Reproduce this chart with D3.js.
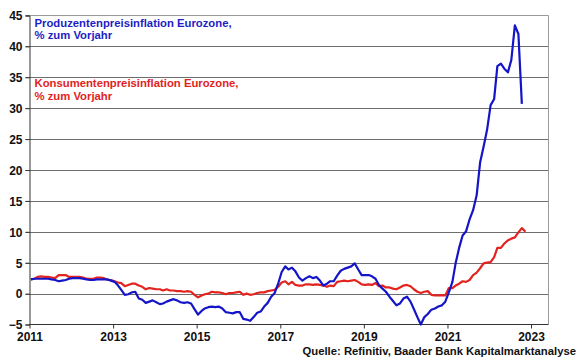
<!DOCTYPE html>
<html><head><meta charset="utf-8">
<script src="https://cdn.jsdelivr.net/npm/d3@7/dist/d3.min.js"></script>
<style>
body{margin:0;background:#fff}
text{font-family:"Liberation Sans",Arial,sans-serif;font-weight:bold}
</style>
</head><body>
<svg id="c" width="580" height="359"></svg>
<script>
// ---- data ----
const startYear = 2011;
const yTicks = [-5, 0, 5, 10, 15, 20, 25, 30, 35, 40, 45];
const xTickYears = [2011, 2013, 2015, 2017, 2019, 2021, 2023];
const ppiLabel = ["Produzentenpreisinflation Eurozone,", "% zum Vorjahr"];
const cpiLabel = ["Konsumentenpreisinflation Eurozone,", "% zum Vorjahr"];
const sourceText = "Quelle: Refinitiv, Baader Bank Kapitalmarktanalyse";

// Producer price inflation, monthly from Jan 2011
const ppi = [
  2.3, 2.4, 2.4, 2.4, 2.4, 2.4, 2.3, 2.2, 2.0, 2.1, 2.2, 2.4,
  2.5, 2.5, 2.5, 2.4, 2.3, 2.2, 2.2, 2.3, 2.3, 2.3, 2.3, 2.1,
  1.9, 1.3, 0.6, -0.2, -0.1, 0.2, 0.3, -0.8, -1.0, -1.5, -1.3, -1.1,
  -1.4, -1.7, -1.6, -1.3, -1.1, -0.9, -1.1, -1.4, -1.5, -1.4, -1.6, -2.5,
  -3.4, -2.8, -2.4, -2.2, -2.1, -2.2, -2.1, -2.4, -3.0, -3.1, -3.2, -3.0,
  -3.0, -4.1, -4.2, -4.4, -3.8, -3.1, -2.9, -2.1, -1.5, -0.5, 0.1, 1.6,
  3.5, 4.4, 3.9, 4.2, 3.6, 2.6, 2.1, 2.5, 2.8, 2.5, 2.7, 2.1,
  1.3, 1.6, 2.0, 2.0, 2.9, 3.7, 4.0, 4.2, 4.4, 4.9, 3.9, 3.0,
  3.0, 3.0, 2.8, 2.4, 1.4, 0.8, 0.3, -0.5, -1.2, -1.9, -1.6, -0.8,
  -0.5, -1.3, -2.5, -3.8, -5.0, -3.8, -3.3, -2.6, -2.4, -2.1, -1.9, -1.3,
  0.2, 1.9, 4.9, 7.4, 9.4, 10.1, 12.0, 13.5, 15.9, 21.2, 23.8, 26.5,
  30.5, 31.5, 36.8, 37.2, 36.4, 35.8, 37.8, 43.4, 42.0, 30.7
];
// Consumer price inflation, monthly from Jan 2011
const cpi = [
  2.3, 2.4, 2.7, 2.8, 2.7, 2.7, 2.6, 2.5, 3.0, 3.0, 3.0, 2.7,
  2.7, 2.7, 2.7, 2.6, 2.4, 2.4, 2.4, 2.6, 2.6, 2.5, 2.2, 2.2,
  2.0, 1.8, 1.7, 1.2, 1.4, 1.6, 1.6, 1.3, 1.1, 0.7, 0.9, 0.8,
  0.7, 0.7, 0.5, 0.7, 0.5, 0.5, 0.4, 0.4, 0.3, 0.4, 0.3, -0.2,
  -0.6, -0.3, -0.1, 0.0, 0.3, 0.2, 0.2, 0.1, -0.1, 0.1, 0.1, 0.2,
  0.3, -0.2, 0.0, -0.2, -0.1, 0.1, 0.2, 0.2, 0.4, 0.5, 0.6, 1.1,
  1.8, 2.0, 1.5, 1.9, 1.4, 1.3, 1.3, 1.5, 1.5, 1.4, 1.5, 1.4,
  1.3, 1.1, 1.3, 1.2, 1.9, 2.0, 2.1, 2.0, 2.1, 2.2, 1.9, 1.5,
  1.4, 1.5, 1.4, 1.7, 1.2, 1.3, 1.0, 1.0, 0.8, 0.7, 1.0, 1.3,
  1.4, 1.2, 0.7, 0.3, 0.1, 0.3, 0.4, -0.2, -0.3, -0.3, -0.3, -0.3,
  0.9, 0.9, 1.3, 1.6, 2.0, 1.9, 2.2, 3.0, 3.4, 4.1, 4.9, 5.0,
  5.1, 5.9, 7.4, 7.4, 8.1, 8.6, 8.9, 9.1, 9.9, 10.6, 10.0
];

// ---- chart ----
const svg = d3.select("#c");
const L = 29.5, R = 548.5, T = 15.5, B = 324.5;
const x = d3.scaleTime()
  .domain([new Date(2011, 0, 1), new Date(2023, 0, 1)])
  .range([29.5, 531]);
const y = d3.scaleLinear().domain([-5, 45]).range([B, T]);
const dateOf = i => new Date(startYear, i, 13);

// gridlines
svg.append("g").selectAll("line").data(yTicks.filter(v => v > -5 && v < 45)).join("line")
  .attr("x1", L - 4).attr("x2", R)
  .attr("y1", d => Math.round(y(d)) + 0.5).attr("y2", d => Math.round(y(d)) + 0.5)
  .attr("stroke", "#6e6e6e").attr("stroke-width", 1);

// frame (top and right lighter)
svg.append("line").attr("x1", L - 4).attr("x2", R).attr("y1", T).attr("y2", T)
  .attr("stroke", "#9a9a9a");
svg.append("line").attr("x1", R).attr("x2", R).attr("y1", T).attr("y2", B)
  .attr("stroke", "#9a9a9a");

// left axis
const ya = svg.append("g").attr("transform", `translate(${L},0)`)
  .call(d3.axisLeft(y).tickValues(yTicks).tickSize(4).tickPadding(3).tickFormat(d3.format("d")));
ya.select(".domain").attr("stroke", "#333");
ya.selectAll(".tick line").attr("stroke", "#333");
ya.selectAll(".tick text").attr("fill", "#111").style("font-size", "12px").attr("x", -7).attr("dy", "0.36em");

// bottom axis
const xa = svg.append("g").attr("transform", `translate(0,${B})`)
  .call(d3.axisBottom(x).tickValues(xTickYears.map(yr => new Date(yr, 0, 1))).tickSize(4).tickPadding(3)
    .tickFormat(d3.timeFormat("%Y")));
xa.select(".domain").attr("stroke", "#333").attr("d", `M${L},0H${R}`);
xa.selectAll(".tick line").attr("stroke", "#333");
xa.selectAll(".tick text").attr("fill", "#111").style("font-size", "12px").attr("y", 8).attr("dy", "0.71em");

// lines
const line = d3.line().x((d, i) => x(dateOf(i))).y(d => y(d)).curve(d3.curveLinear);
svg.append("path").datum(cpi).attr("d", line).attr("fill", "none")
  .attr("stroke", "#e2231e").attr("stroke-width", 2.2).attr("stroke-linejoin", "round");
svg.append("path").datum(ppi).attr("d", line).attr("fill", "none")
  .attr("stroke", "#1414c8").attr("stroke-width", 2.2).attr("stroke-linejoin", "round");

// labels
const lab = (lines, color, y0) => {
  const t = svg.append("text").attr("x", 34.5).attr("y", y0).attr("fill", color).style("font-size", "11.3px");
  lines.forEach((s, i) => t.append("tspan").attr("x", 34.5).attr("dy", i ? 12.6 : 0).text(s));
};
lab(ppiLabel, "#1e1ec4", 26.8);
lab(cpiLabel, "#e2231e", 87.4);

svg.append("text").attr("x", 576).attr("y", 355).attr("text-anchor", "end")
  .attr("fill", "#111").style("font-size", "11.3px").text(sourceText);
</script>
</body></html>
